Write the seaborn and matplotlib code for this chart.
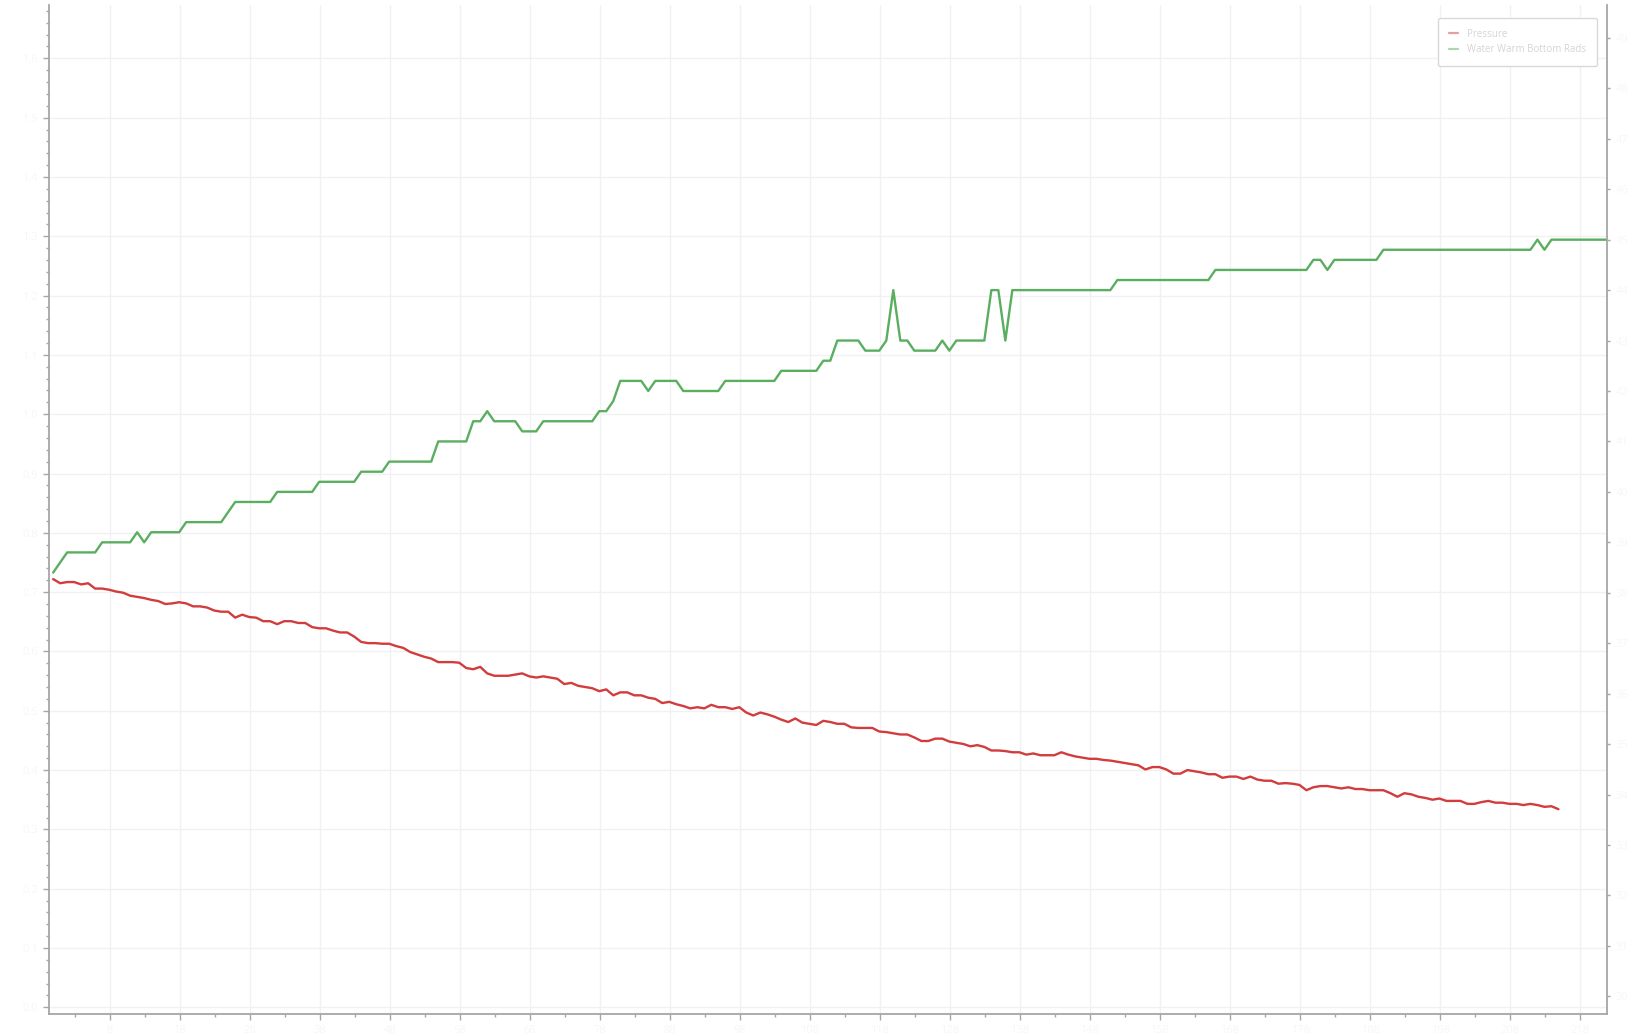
import numpy as np
import matplotlib
matplotlib.use("Agg")
import matplotlib.pyplot as plt
from matplotlib.ticker import FixedLocator, MultipleLocator, FuncFormatter
from matplotlib.lines import Line2D
import seaborn as sns

# ─────────────────────────────────────────
# DATA (one sample per minute)
# ─────────────────────────────────────────
series_names = ["Pressure", "Water Warm Bottom Rads"]

# pressure, bar (left axis) – one value per sample
pressure = [
    0.722, 0.715, 0.717, 0.717, 0.713, 0.715, 0.706, 0.706, 0.704, 0.701,
    0.699, 0.694, 0.692, 0.690, 0.687, 0.685, 0.680, 0.681, 0.683, 0.681,
    0.676, 0.676, 0.674, 0.669, 0.667, 0.667, 0.657, 0.662, 0.658, 0.657,
    0.651, 0.651, 0.646, 0.651, 0.651, 0.648, 0.648, 0.641, 0.639, 0.639,
    0.635, 0.632, 0.632, 0.625, 0.616, 0.614, 0.614, 0.613, 0.613, 0.609,
    0.606, 0.599, 0.595, 0.591, 0.588, 0.582, 0.582, 0.582, 0.581, 0.572,
    0.570, 0.574, 0.563, 0.559, 0.559, 0.559, 0.561, 0.563, 0.558, 0.556,
    0.558, 0.556, 0.554, 0.545, 0.547, 0.542, 0.540, 0.538, 0.533, 0.536,
    0.526, 0.531, 0.531, 0.526, 0.526, 0.522, 0.520, 0.513, 0.515, 0.511,
    0.508, 0.504, 0.506, 0.504, 0.510, 0.506, 0.506, 0.503, 0.506, 0.497,
    0.492, 0.497, 0.494, 0.490, 0.485, 0.481, 0.487, 0.480, 0.478, 0.476,
    0.483, 0.481, 0.478, 0.478, 0.472, 0.471, 0.471, 0.471, 0.465, 0.464,
    0.462, 0.460, 0.460, 0.455, 0.449, 0.449, 0.453, 0.453, 0.448, 0.446,
    0.444, 0.440, 0.442, 0.439, 0.433, 0.433, 0.432, 0.430, 0.430, 0.426,
    0.428, 0.425, 0.425, 0.425, 0.430, 0.426, 0.423, 0.421, 0.419, 0.419,
    0.417, 0.416, 0.414, 0.412, 0.410, 0.408, 0.401, 0.405, 0.405, 0.401,
    0.394, 0.394, 0.400, 0.398, 0.396, 0.393, 0.393, 0.387, 0.389, 0.389,
    0.385, 0.389, 0.384, 0.382, 0.382, 0.377, 0.378, 0.377, 0.375, 0.366,
    0.371, 0.373, 0.373, 0.371, 0.369, 0.371, 0.368, 0.368, 0.366, 0.366,
    0.366, 0.361, 0.355, 0.361, 0.359, 0.355, 0.353, 0.350, 0.352, 0.348,
    0.348, 0.348, 0.343, 0.343, 0.346, 0.348, 0.345, 0.345, 0.343, 0.343,
    0.341, 0.343, 0.341, 0.338, 0.339, 0.334,
]
pressure_min = list(range(len(pressure)))

# water temperature, °C (right axis) – samples where the value changes
water_min = [
    0, 2, 6, 7, 11, 12, 13, 14, 18, 19, 24, 26, 31, 32, 37, 38, 43, 44, 47, 48,
    54, 55, 59, 60, 61, 62, 63, 66, 67, 69, 70, 77, 78, 79, 80, 81, 84, 85, 86,
    89, 90, 95, 96, 103, 104, 109, 110, 111, 112, 115, 116, 118, 119, 120, 121,
    122, 123, 126, 127, 128, 129, 133, 134, 135, 136, 137, 151, 152, 165, 166,
    179, 180, 181, 182, 183, 189, 190, 211, 212, 213, 214, 222,
]
water_temp = [
    38.4, 38.8, 38.8, 39.0, 39.0, 39.2, 39.0, 39.2, 39.2, 39.4, 39.4, 39.8,
    39.8, 40.0, 40.0, 40.2, 40.2, 40.4, 40.4, 40.6, 40.6, 41.0, 41.0, 41.4,
    41.4, 41.6, 41.4, 41.4, 41.2, 41.2, 41.4, 41.4, 41.6, 41.6, 41.8, 42.2,
    42.2, 42.0, 42.2, 42.2, 42.0, 42.0, 42.2, 42.2, 42.4, 42.4, 42.6, 42.6,
    43.0, 43.0, 42.8, 42.8, 43.0, 44.0, 43.0, 43.0, 42.8, 42.8, 43.0, 42.8,
    43.0, 43.0, 44.0, 44.0, 43.0, 44.0, 44.0, 44.2, 44.2, 44.4, 44.4, 44.6,
    44.6, 44.4, 44.6, 44.6, 44.8, 44.8, 45.0, 44.8, 45.0, 45.0,
]

RED = "#d23c3c"
GREEN = "#5aae5f"
AXIS_GREY = "#a6a6a6"
LABEL_GREY = "#f7f7f7"   # tick labels are almost invisible in the original

# ─────────────────────────────────────────
# FIGURE
# ─────────────────────────────────────────
sns.set_theme(style="white")
plt.rcParams['font.family'] = ['Open Sans', 'DejaVu Sans']

fig = plt.figure(figsize=(16.48, 10.35), dpi=100)
ax = fig.add_axes([0.0297, 0.0200, 0.9457, 0.9752])
ax2 = ax.twinx()

sns.lineplot(x=pressure_min, y=pressure, ax=ax, color=RED, linewidth=1.7,
             estimator=None, sort=False, legend=False)
sns.lineplot(x=water_min, y=water_temp, ax=ax2, color=GREEN, linewidth=1.7,
             estimator=None, sort=False, legend=False)

ax.set_xlim(-0.6, 222)
ax.set_ylim(-0.0118, 1.690)
ax2.set_ylim(29.643, 49.653)
ax.set_xlabel("")
ax.set_ylabel("")
ax2.set_ylabel("")

# ticks
ax.xaxis.set_major_locator(FixedLocator(np.arange(8.1, 222, 10)))
ax.xaxis.set_minor_locator(FixedLocator(np.arange(3.1, 222, 10)))
ax.yaxis.set_major_locator(MultipleLocator(0.1))
ax.yaxis.set_minor_locator(MultipleLocator(0.02))
ax2.yaxis.set_major_locator(MultipleLocator(1))

ax.xaxis.set_major_formatter(FuncFormatter(lambda v, p: f"{int(round(v))}"))
ax.yaxis.set_major_formatter(FuncFormatter(lambda v, p: f"{v:.1f}"))
ax2.yaxis.set_major_formatter(FuncFormatter(lambda v, p: f"{v:.0f}"))

ax.tick_params(axis='x', which='major', direction='out', length=4.5, width=1,
               color=AXIS_GREY, labelcolor=LABEL_GREY, labelsize=8, bottom=True)
ax.tick_params(axis='x', which='minor', direction='out', length=2.5, width=1,
               color=AXIS_GREY, bottom=True)
ax.tick_params(axis='y', which='major', direction='out', length=4.5, width=1,
               color=AXIS_GREY, labelcolor=LABEL_GREY, labelsize=8, left=True)
ax.tick_params(axis='y', which='minor', direction='out', length=2.2, width=1,
               color=AXIS_GREY, left=True)
ax2.tick_params(axis='y', which='major', direction='out', length=2.5, width=1,
                color=AXIS_GREY, labelcolor=LABEL_GREY, labelsize=8, right=True)

# grid
ax.set_axisbelow(True)
ax.grid(True, which='major', axis='x', color='#f0f0f6', linewidth=1)
ax.grid(True, which='major', axis='y', color='#f1f1f3', linewidth=1)
ax2.grid(False)

# spines
for s in ['top', 'right']:
    ax.spines[s].set_visible(False)
for s in ['top', 'left', 'bottom']:
    ax2.spines[s].set_visible(False)
for sp in [ax.spines['left'], ax.spines['bottom'], ax2.spines['right']]:
    sp.set_color(AXIS_GREY)
    sp.set_linewidth(1.3)

# legend (faint, top right)
handles = [Line2D([0], [0], color=RED, alpha=0.5, lw=1.6),
           Line2D([0], [0], color=GREEN, alpha=0.5, lw=1.6)]
leg = ax2.legend(handles, series_names, loc='upper right',
                 bbox_to_anchor=(0.9933, 0.987), borderaxespad=0,
                 fontsize=7, handlelength=1.0, handletextpad=0.9,
                 borderpad=1.1, labelspacing=0.45, frameon=True,
                 fancybox=True, labelcolor='#d4d4d4')
leg.get_frame().set_edgecolor('#d9d9d9')
leg.get_frame().set_linewidth(1)
leg.get_frame().set_alpha(1)

plt.savefig('out.png', dpi=100)
